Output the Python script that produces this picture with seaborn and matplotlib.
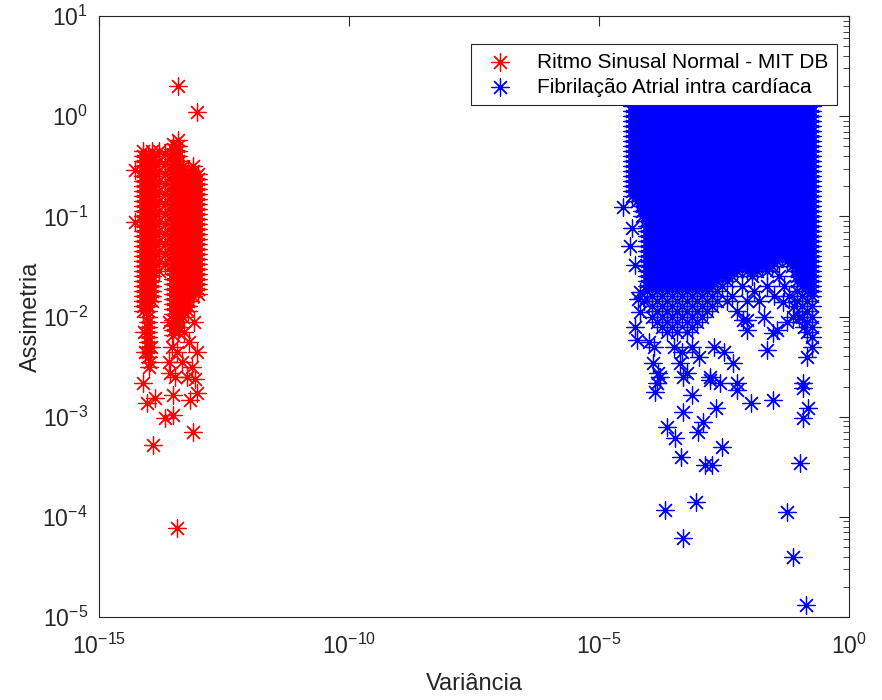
import numpy as np
import pandas as pd
import matplotlib
matplotlib.use('Agg')
import matplotlib.pyplot as plt
import seaborn as sns
from matplotlib.ticker import LogLocator, NullLocator

# values, in hundredths of a decade:
# 100*log10(variance), 100*log10(skewness)
# dense clusters are written column by column: (log var, [log skew, ...])
red_cols = [
    (-1412, [-35, -40, -45, -50, -55, -60, -65, -70, -75, -80, -85, -90, -95, -100, -105, -110,
             -115, -120, -125, -130, -135, -140, -145, -150, -155, -160, -165, -170, -175, -180,
             -185, -190, -195]),
    (-1403, [-40, -45, -50, -55, -60, -65, -70, -75, -80, -85, -90, -95, -100, -105, -110, -115,
             -120, -125, -130, -135, -140, -145, -150, -155, -160, -165, -170, -175, -180, -185,
             -190, -195, -200, -205, -210, -215, -220, -225, -230, -235, -240]),
    (-1394, [-35, -40, -45, -50, -55, -60, -65, -70, -75, -80, -85, -90, -95, -100, -105, -110,
             -115, -120, -125, -130, -135, -140, -145, -150, -155, -160, -165, -170, -175, -180,
             -185]),
    (-1380, [-35, -45, -55, -65, -75, -85, -95, -105, -115, -125, -135, -145, -155]),
    (-1368, [-38, -48, -58, -68, -78, -88, -98, -108, -118, -128, -138, -148]),
    (-1352, [-28, -33, -38, -43, -48, -53, -58, -63, -68, -73, -78, -83, -88, -93, -98, -103,
             -108, -113, -118, -123, -128, -133, -138, -143, -148, -153, -158, -163, -168, -173,
             -178, -183, -188, -193, -198, -203, -208, -213, -218]),
    (-1342, [-30, -35, -40, -45, -50, -55, -60, -65, -70, -75, -80, -85, -90, -95, -100, -105,
             -110, -115, -120, -125, -130, -135, -140, -145, -150, -155, -160, -165, -170, -175,
             -180, -185, -190, -195, -200, -205, -210, -215]),
    (-1332, [-50, -55, -60, -65, -70, -75, -80, -85, -90, -95, -100, -105, -110, -115, -120,
             -125, -130, -135, -140, -145, -150, -155, -160, -165, -170, -175, -180, -185, -190,
             -195, -200]),
    (-1322, [-55, -60, -65, -70, -75, -80, -85, -90, -95, -100, -105, -110, -115, -120, -125,
             -130, -135, -140, -145, -150, -155, -160, -165, -170, -175, -180, -185, -190, -195]),
    (-1312, [-50, -55, -60, -65, -70, -75, -80, -85, -90, -95, -100, -105, -110, -115, -120,
             -125, -130, -135, -140, -145, -150, -155, -160, -165, -170, -175, -180]),
    (-1302, [-58, -63, -68, -73, -78, -83, -88, -93, -98, -103, -108, -113, -118, -123, -128,
             -133, -138, -143, -148, -153, -158, -163, -168, -173, -178]),
]
red_extra = [
    (-1342, 30), (-1304, 4), (-1342, -24), (-1428, -54), (-1428, -106),
    (-1392, -328), (-1344, -411), (-1312, -315), (-1368, -301), (-1352, -298),
    (-1404, -286), (-1388, -281), (-1412, -266), (-1400, -250), (-1318, -283),
    (-1304, -276), (-1352, -278), (-1358, -256),
    (-1360, -205), (-1330, -215), (-1320, -225), (-1310, -205), (-1305, -235),
    (-1315, -250), (-1325, -260), (-1335, -245), (-1360, -245), (-1348, -260),
    (-1308, -262), (-1345, -235), (-1355, -230),
    (-1410, -215), (-1396, -230), (-1408, -235), (-1398, -245),
]

blue_cols = [
    (-435, [10, 5, 0, -5, -10, -15, -20, -25, -30, -35, -40, -45, -50, -55, -60, -65, -70, -75,
            -80]),
    (-425, [10, 5, 0, -5, -10, -15, -20, -25, -30, -35, -40, -45, -50, -55, -60, -65, -70, -75,
            -80, -85]),
    (-415, [10, 5, 0, -5, -10, -15, -20, -25, -30, -35, -40, -45, -50, -55, -60, -65, -70, -75,
            -80, -85, -90, -95, -100]),
    (-405, [10, 5, 0, -5, -10, -15, -20, -25, -30, -35, -40, -45, -50, -55, -60, -65, -70, -75,
            -80, -85, -90, -95, -100, -105, -110, -115, -120, -125, -130, -135, -140, -145, -150,
            -155, -160, -165, -170, -175]),
    (-395, [10, 5, 0, -5, -10, -15, -20, -25, -30, -35, -40, -45, -50, -55, -60, -65, -70, -75,
            -80, -85, -90, -95, -100, -105, -110, -115, -120, -125, -130, -135, -140, -145, -150,
            -155, -160, -165, -170]),
    (-385, [10, 5, 0, -5, -10, -15, -20, -25, -30, -35, -40, -45, -50, -55, -60, -65, -70, -75,
            -80, -85, -90, -95, -100, -105, -110, -115, -120, -125, -130, -135, -140, -145, -150,
            -155, -160, -165, -170, -175]),
    (-375, [10, 5, 0, -5, -10, -15, -20, -25, -30, -35, -40, -45, -50, -55, -60, -65, -70, -75,
            -80, -85, -90, -95, -100, -105, -110, -115, -120, -125, -130, -135, -140, -145, -150,
            -155, -160, -165, -170]),
    (-365, [10, 5, 0, -5, -10, -15, -20, -25, -30, -35, -40, -45, -50, -55, -60, -65, -70, -75,
            -80, -85, -90, -95, -100, -105, -110, -115, -120, -125, -130, -135, -140, -145, -150,
            -155, -160, -165, -170, -175]),
    (-355, [10, 5, 0, -5, -10, -15, -20, -25, -30, -35, -40, -45, -50, -55, -60, -65, -70, -75,
            -80, -85, -90, -95, -100, -105, -110, -115, -120, -125, -130, -135, -140, -145, -150,
            -155, -160, -165, -170]),
    (-345, [10, 5, 0, -5, -10, -15, -20, -25, -30, -35, -40, -45, -50, -55, -60, -65, -70, -75,
            -80, -85, -90, -95, -100, -105, -110, -115, -120, -125, -130, -135, -140, -145, -150,
            -155, -160, -165, -170, -175]),
    (-335, [10, 5, 0, -5, -10, -15, -20, -25, -30, -35, -40, -45, -50, -55, -60, -65, -70, -75,
            -80, -85, -90, -95, -100, -105, -110, -115, -120, -125, -130, -135, -140, -145, -150,
            -155, -160, -165, -170]),
    (-325, [10, 5, 0, -5, -10, -15, -20, -25, -30, -35, -40, -45, -50, -55, -60, -65, -70, -75,
            -80, -85, -90, -95, -100, -105, -110, -115, -120, -125, -130, -135, -140, -145, -150,
            -155, -160, -165, -170, -175]),
    (-315, [10, 5, 0, -5, -10, -15, -20, -25, -30, -35, -40, -45, -50, -55, -60, -65, -70, -75,
            -80, -85, -90, -95, -100, -105, -110, -115, -120, -125, -130, -135, -140, -145, -150,
            -155, -160, -165, -170]),
    (-305, [10, 5, 0, -5, -10, -15, -20, -25, -30, -35, -40, -45, -50, -55, -60, -65, -70, -75,
            -80, -85, -90, -95, -100, -105, -110, -115, -120, -125, -130, -135, -140, -145, -150,
            -155, -160, -165, -170, -175]),
    (-295, [10, 5, 0, -5, -10, -15, -20, -25, -30, -35, -40, -45, -50, -55, -60, -65, -70, -75,
            -80, -85, -90, -95, -100, -105, -110, -115, -120, -125, -130, -135, -140, -145, -150,
            -155, -160, -165, -170]),
    (-285, [10, 5, 0, -5, -10, -15, -20, -25, -30, -35, -40, -45, -50, -55, -60, -65, -70, -75,
            -80, -85, -90, -95, -100, -105, -110, -115, -120, -125, -130, -135, -140, -145, -150,
            -155, -160, -165, -170, -175]),
    (-275, [10, 5, 0, -5, -10, -15, -20, -25, -30, -35, -40, -45, -50, -55, -60, -65, -70, -75,
            -80, -85, -90, -95, -100, -105, -110, -115, -120, -125, -130, -135, -140, -145, -150,
            -155, -160, -165, -170]),
    (-265, [10, 5, 0, -5, -10, -15, -20, -25, -30, -35, -40, -45, -50, -55, -60, -65, -70, -75,
            -80, -85, -90, -95, -100, -105, -110, -115, -120, -125, -130, -135, -140, -145, -150,
            -155, -160, -165]),
    (-255, [10, 5, 0, -5, -10, -15, -20, -25, -30, -35, -40, -45, -50, -55, -60, -65, -70, -75,
            -80, -85, -90, -95, -100, -105, -110, -115, -120, -125, -130, -135, -140, -145, -150,
            -155, -160]),
    (-245, [10, 5, 0, -5, -10, -15, -20, -25, -30, -35, -40, -45, -50, -55, -60, -65, -70, -75,
            -80, -85, -90, -95, -100, -105, -110, -115, -120, -125, -130, -135, -140, -145, -150,
            -155, -160, -165]),
    (-235, [10, 5, 0, -5, -10, -15, -20, -25, -30, -35, -40, -45, -50, -55, -60, -65, -70, -75,
            -80, -85, -90, -95, -100, -105, -110, -115, -120, -125, -130, -135, -140, -145, -150,
            -155, -160]),
    (-225, [10, 5, 0, -5, -10, -15, -20, -25, -30, -35, -40, -45, -50, -55, -60, -65, -70, -75,
            -80, -85, -90, -95, -100, -105, -110, -115, -120, -125, -130, -135, -140, -145, -150,
            -155]),
    (-215, [10, 5, 0, -5, -10, -15, -20, -25, -30, -35, -40, -45, -50, -55, -60, -65, -70, -75,
            -80, -85, -90, -95, -100, -105, -110, -115, -120, -125, -130, -135, -140, -145,
            -150]),
    (-205, [10, 5, 0, -5, -10, -15, -20, -25, -30, -35, -40, -45, -50, -55, -60, -65, -70, -75,
            -80, -85, -90, -95, -100, -105, -110, -115, -120, -125, -130, -135, -140, -145, -150,
            -155]),
    (-195, [10, 5, 0, -5, -10, -15, -20, -25, -30, -35, -40, -45, -50, -55, -60, -65, -70, -75,
            -80, -85, -90, -95, -100, -105, -110, -115, -120, -125, -130, -135, -140, -145, -150,
            -155, -160]),
    (-185, [10, 5, 0, -5, -10, -15, -20, -25, -30, -35, -40, -45, -50, -55, -60, -65, -70, -75,
            -80, -85, -90, -95, -100, -105, -110, -115, -120, -125, -130, -135, -140, -145, -150,
            -155]),
    (-175, [10, 5, 0, -5, -10, -15, -20, -25, -30, -35, -40, -45, -50, -55, -60, -65, -70, -75,
            -80, -85, -90, -95, -100, -105, -110, -115, -120, -125, -130, -135, -140, -145,
            -150]),
    (-165, [10, 5, 0, -5, -10, -15, -20, -25, -30, -35, -40, -45, -50, -55, -60, -65, -70, -75,
            -80, -85, -90, -95, -100, -105, -110, -115, -120, -125, -130, -135, -140, -145, -150,
            -155]),
    (-155, [10, 5, 0, -5, -10, -15, -20, -25, -30, -35, -40, -45, -50, -55, -60, -65, -70, -75,
            -80, -85, -90, -95, -100, -105, -110, -115, -120, -125, -130, -135, -140, -145,
            -150]),
    (-145, [10, 5, 0, -5, -10, -15, -20, -25, -30, -35, -40, -45, -50, -55, -60, -65, -70, -75,
            -80, -85, -90, -95, -100, -105, -110, -115, -120, -125, -130, -135, -140, -145]),
    (-135, [10, 5, 0, -5, -10, -15, -20, -25, -30, -35, -40, -45, -50, -55, -60, -65, -70, -75,
            -80, -85, -90, -95, -100, -105, -110, -115, -120, -125, -130, -135, -140]),
    (-125, [10, 5, 0, -5, -10, -15, -20, -25, -30, -35, -40, -45, -50, -55, -60, -65, -70, -75,
            -80, -85, -90, -95, -100, -105, -110, -115, -120, -125, -130, -135, -140, -145]),
    (-115, [10, 5, 0, -5, -10, -15, -20, -25, -30, -35, -40, -45, -50, -55, -60, -65, -70, -75,
            -80, -85, -90, -95, -100, -105, -110, -115, -120, -125, -130, -135, -140, -145,
            -150]),
    (-105, [10, 5, 0, -5, -10, -15, -20, -25, -30, -35, -40, -45, -50, -55, -60, -65, -70, -75,
            -80, -85, -90, -95, -100, -105, -110, -115, -120, -125, -130, -135, -140, -145, -150,
            -155, -160, -165]),
    (-95, [10, 5, 0, -5, -10, -15, -20, -25, -30, -35, -40, -45, -50, -55, -60, -65, -70, -75,
           -80, -85, -90, -95, -100, -105, -110, -115, -120, -125, -130, -135, -140, -145, -150,
           -155, -160, -165, -170]),
    (-85, [10, 5, 0, -5, -10, -15, -20, -25, -30, -35, -40, -45, -50, -55, -60, -65, -70, -75,
           -80, -85, -90, -95, -100, -105, -110, -115, -120, -125, -130, -135, -140, -145, -150,
           -155, -160, -165, -170, -175]),
    (-75, [10, 5, 0, -5, -10, -15, -20, -25, -30, -35, -40, -45, -50, -55, -60, -65, -70, -75,
           -80, -85, -90, -95, -100, -105, -110, -115, -120, -125, -130, -135, -140, -145, -150,
           -155, -160, -165, -170, -175, -180]),
]
# looser lobes under the dense block (lower left and right edge)
blue_lobe = [
    (-395, [-180, -190, -200]),
    (-385, [-185, -195, -205]),
    (-375, [-180, -190, -200, -210]),
    (-365, [-185, -195, -205, -215]),
    (-355, [-180, -190, -200, -210]),
    (-345, [-185, -195, -205, -215]),
    (-335, [-180, -190, -200]),
    (-325, [-185, -195, -205, -215]),
    (-315, [-180, -190, -200, -210]),
    (-305, [-185, -195, -205]),
    (-295, [-180, -190, -200]),
    (-285, [-185, -195]),
    (-275, [-180, -190]),
    (-265, [-175, -185]),
    (-255, [-170]),
    (-105, [-175, -185]),
    (-95, [-180, -190, -200]),
    (-85, [-185, -195, -205, -215]),
    (-75, [-190, -200, -210, -220, -230]),
]
blue_extra = [
    (-410, -185), (-400, -225), (-390, -230), (-350, -230), (-315, -230), (-335, -235),
    (-300, -240), (-270, -230), (-250, -235), (-245, -185), (-235, -180), (-225, -195),
    (-215, -170), (-205, -185), (-190, -175), (-180, -185), (-165, -170), (-150, -180),
    (-140, -160), (-130, -170), (-120, -180), (-110, -190), (-100, -200), (-90, -210),
    (-170, -200), (-125, -205), (-212, -203), (-204, -213), (-152, -216), (-132, -186),
    (-452, -91), (-434, -112), (-438, -130), (-428, -149), (-418, -176), (-422, -183),
    (-418, -196), (-428, -210), (-424, -223),
    (-392, -246), (-382, -256), (-338, -246), (-324, -256), (-278, -260), (-232, -246),
    (-384, -266), (-332, -260), (-278, -263), (-224, -266), (-164, -233),
    (-144, -213), (-92, -266), (-112, -200), (-84, -240), (-204, -203),
    (-388, -275), (-378, -260), (-314, -278), (-332, -295), (-266, -291),
    (-292, -305), (-302, -315), (-364, -310), (-348, -321), (-254, -330),
    (-336, -340), (-288, -348), (-274, -348), (-368, -393), (-306, -385),
    (-332, -421), (-124, -395), (-112, -440), (-86, -488), (-98, -346),
    (-92, -301), (-82, -291), (-92, -271), (-152, -283), (-196, -286),
    (-224, -273), (-258, -266),
]

labels = ['Ritmo Sinusal Normal - MIT DB', 'Fibrilação Atrial intra cardíaca']
colors = ['#ff0000', '#0000ff']


def to_frame(col_sets, extra, name):
    pts = [(x, y) for cols in col_sets for x, ys in cols for y in ys] + list(extra)
    pts = np.array(pts, dtype=float) / 100
    return pd.DataFrame({'Variância': 10 ** pts[:, 0],
                         'Assimetria': 10 ** pts[:, 1],
                         'grupo': name})


df = pd.concat([to_frame([red_cols], red_extra, labels[0]),
                to_frame([blue_cols, blue_lobe], blue_extra, labels[1])], ignore_index=True)

sns.set_style('white')
plt.rcParams['font.family'] = ['Liberation Sans', 'DejaVu Sans']
plt.rcParams['mathtext.default'] = 'regular'
dark = '#262626'

fig = plt.figure(figsize=(8.82, 7), dpi=100)
ax = fig.add_axes([99 / 882, 83 / 700, 750 / 882, 601 / 700])

asterisk = (8, 2, 0)
for name, col in zip(labels, colors):
    sns.scatterplot(data=df[df['grupo'] == name], x='Variância', y='Assimetria',
                    color=col, marker=asterisk, s=156, linewidth=0.9,
                    label=name, legend=False, ax=ax)

ax.set_xscale('log')
ax.set_yscale('log')
ax.set_xlim(1e-15, 1)
ax.set_ylim(1e-5, 10)
ax.set_xticks([1e-15, 1e-10, 1e-5, 1])
ax.xaxis.set_minor_locator(NullLocator())
ax.yaxis.set_major_locator(LogLocator(base=10, numticks=20))
ax.yaxis.set_minor_locator(LogLocator(base=10, subs=np.arange(2, 10), numticks=20))

ax.tick_params(which='both', direction='in', top=True, right=True, color=dark,
               labelcolor=dark, labelsize=16.5)
ax.tick_params(which='major', length=7, width=0.8)
ax.tick_params(which='minor', length=4, width=0.6)
ax.tick_params(axis='x', pad=12)
ax.tick_params(axis='y', pad=8)
for sp in ax.spines.values():
    sp.set_color(dark)
    sp.set_linewidth(0.8)

ax.set_xlabel('Variância', fontsize=17, color=dark)
ax.set_ylabel('Assimetria', fontsize=17, color=dark)
ax.xaxis.set_label_coords(0.5, -0.094)
ax.yaxis.set_label_coords(-0.076, 0.5)

handles, labs = ax.get_legend_handles_labels()
leg = ax.legend(handles, labs, loc='upper right', bbox_to_anchor=(0.984, 0.953),
                borderaxespad=0, fontsize=15, fancybox=False, framealpha=1,
                edgecolor=dark, labelspacing=0.3, borderpad=0.4)
leg.get_frame().set_linewidth(0.8)
for t in leg.get_texts():
    t.set_color('#000000')

fig.savefig('out.png', dpi=100)
